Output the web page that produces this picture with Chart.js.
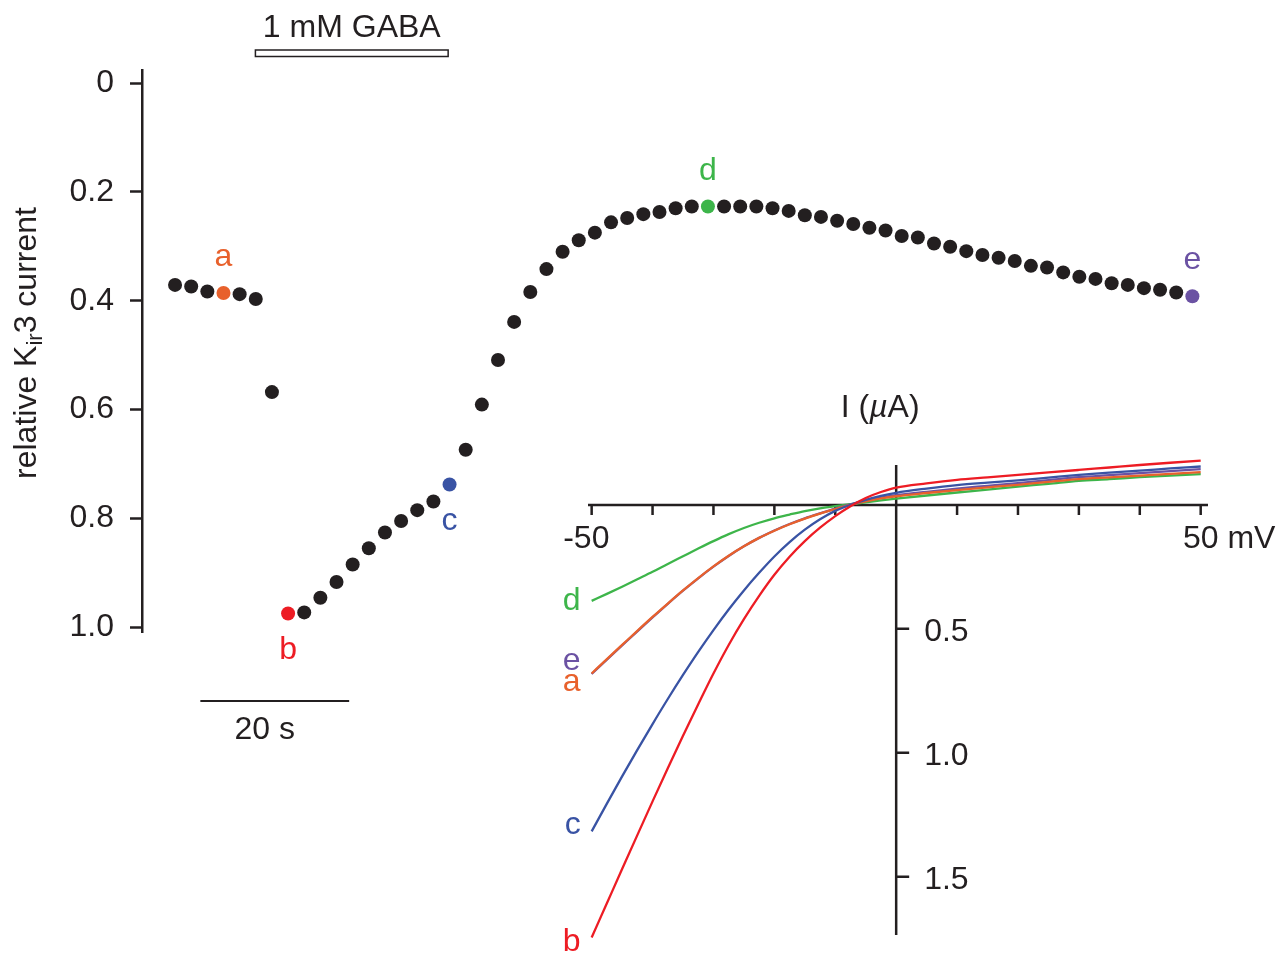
<!DOCTYPE html>
<html lang="en">
<head>
<meta charset="UTF-8">
<title>Kir3 current and GABA</title>
<script src="https://cdn.jsdelivr.net/npm/chart.js@4"></script>
<style>
  body { margin: 0; background: #fff; }
  #wrap { position: relative; width: 1285px; height: 953px; }
  #mainChart { position: absolute; left: 0; top: 0; }
  #ivChart { position: absolute; left: 540px; top: 380px; }
</style>
</head>
<body>
<div id="wrap">
  <canvas id="mainChart" width="1285" height="953"></canvas>
  <canvas id="ivChart" width="745" height="573"></canvas>
</div>

<script>
// ---- time course: one point per sweep ----
const sweepTimes = [0, 2.17, 4.34, 6.51, 8.68, 10.85, 13.02, 15.19, 17.36, 19.53,
  21.7, 23.87, 26.04, 28.21, 30.38, 32.55, 34.72, 36.89, 39.06, 41.23,
  43.4, 45.57, 47.74, 49.91, 52.08, 54.25, 56.42, 58.59, 60.76, 62.93,
  65.1, 67.27, 69.44, 71.61, 73.78, 75.95, 78.12, 80.29, 82.46, 84.63,
  86.8, 88.97, 91.14, 93.31, 95.48, 97.65, 99.82, 101.99, 104.16, 106.33,
  108.5, 110.67, 112.84, 115.01, 117.18, 119.35, 121.52, 123.69, 125.86, 128.03,
  130.2, 132.37, 134.54, 136.71];
const relCurrent = [0.371, 0.374, 0.383, 0.386, 0.388, 0.397, 0.568, 0.975, 0.973, 0.946,
  0.917, 0.885, 0.855, 0.826, 0.805, 0.785, 0.769, 0.738, 0.674, 0.591,
  0.509, 0.439, 0.384, 0.342, 0.310, 0.289, 0.275, 0.256, 0.248, 0.241,
  0.237, 0.230, 0.227, 0.227, 0.227, 0.227, 0.227, 0.230, 0.235, 0.243,
  0.246, 0.253, 0.259, 0.266, 0.271, 0.281, 0.284, 0.295, 0.301, 0.309,
  0.316, 0.321, 0.327, 0.336, 0.339, 0.348, 0.356, 0.360, 0.368, 0.371,
  0.377, 0.380, 0.385, 0.392];
const yTicks = [0, 0.2, 0.4, 0.6, 0.8, 1.0];

// sweeps whose I-V curves are shown in the inset
const traceLabels = ['a', 'b', 'c', 'd', 'e'];
const traceSweeps = [3, 7, 17, 33, 63];

// GABA application (s) and time scale bar
const gabaOn = 10.8;
const gabaOff = 36.7;
const scaleBarStart = 3.4;
const scaleBarSeconds = 20;

// ---- I-V inset: current in uA, inward negative ----
const ivVoltages = [-50, -47.5, -45, -42.5, -40, -37.5, -35, -32.5, -30, -27.5,
  -25, -22.5, -20, -17.5, -15, -12.5, -10, -7.5, -5, -2.5,
  0, 5, 10, 15, 20, 25, 30, 35, 40, 45, 50];
const ivA = [-0.680, -0.622, -0.565, -0.508, -0.452, -0.398, -0.345, -0.295, -0.248, -0.205,
  -0.167, -0.133, -0.104, -0.078, -0.055, -0.035, -0.017, 0.000, 0.014, 0.026,
  0.035, 0.048, 0.060, 0.071, 0.081, 0.093, 0.104, 0.111, 0.118, 0.125, 0.132];
const ivB = [-1.745, -1.607, -1.469, -1.332, -1.196, -1.062, -0.931, -0.804, -0.680, -0.565,
  -0.461, -0.367, -0.282, -0.209, -0.146, -0.092, -0.045, -0.005, 0.028, 0.052,
  0.070, 0.087, 0.101, 0.111, 0.121, 0.131, 0.141, 0.151, 0.161, 0.170, 0.179];
const ivC = [-1.317, -1.205, -1.095, -0.988, -0.884, -0.783, -0.686, -0.593, -0.505, -0.422,
  -0.345, -0.274, -0.208, -0.150, -0.100, -0.058, -0.024, 0.000, 0.020, 0.036,
  0.049, 0.066, 0.080, 0.090, 0.099, 0.110, 0.121, 0.130, 0.138, 0.147, 0.155];
const ivD = [-0.387, -0.359, -0.330, -0.300, -0.270, -0.238, -0.207, -0.176, -0.146, -0.118,
  -0.093, -0.072, -0.054, -0.039, -0.025, -0.014, -0.005, 0.003, 0.010, 0.018,
  0.025, 0.038, 0.050, 0.062, 0.074, 0.085, 0.097, 0.104, 0.112, 0.118, 0.124];
const ivE = [-0.682, -0.624, -0.567, -0.510, -0.454, -0.399, -0.346, -0.296, -0.249, -0.206,
  -0.167, -0.133, -0.103, -0.077, -0.054, -0.034, -0.015, 0.002, 0.017, 0.029,
  0.039, 0.053, 0.066, 0.077, 0.088, 0.100, 0.112, 0.120, 0.128, 0.136, 0.144];
const ivXTicks = [-50, -40, -30, -20, -10, 10, 20, 30, 40, 50];
const ivYTicks = [-0.5, -1.0, -1.5];

// ---- styles ----
const FONT = '"Liberation Sans", Arial, Helvetica, sans-serif';
const FS = 32;
const INK = '#231f20';
const traceColors = { a: '#e8612c', b: '#ed1c24', c: '#3953a4', d: '#3db54a', e: '#6b52a3' };
const labelBelow = { a: false, b: true, c: true, d: false, e: false };
// baseline offset of the inset labels from the start of each curve
const ivLabelNudge = { a: 18, b: 14, c: 3, d: 9, e: -4 };

function pointColor(i) {
  const k = traceSweeps.indexOf(i);
  return k < 0 ? INK : traceColors[traceLabels[k]];
}

// draws GABA bar, scale bar, sweep letters and the y title
const mainDecor = {
  id: 'mainDecor',
  afterDraw(chart) {
    const { ctx, chartArea, scales: { x, y } } = chart;
    ctx.save();
    ctx.font = `${FS}px ${FONT}`;
    ctx.textAlign = 'center';
    ctx.textBaseline = 'alphabetic';

    const g0 = x.getPixelForValue(gabaOn);
    const g1 = x.getPixelForValue(gabaOff);
    const barTop = chartArea.top - 20;
    ctx.lineWidth = 1.5;
    ctx.strokeStyle = INK;
    ctx.fillStyle = '#fff';
    ctx.fillRect(g0, barTop, g1 - g0, 6.5);
    ctx.strokeRect(g0, barTop, g1 - g0, 6.5);
    ctx.fillStyle = INK;
    ctx.fillText('1 mM GABA', (g0 + g1) / 2, chartArea.top - 33);

    const s0 = x.getPixelForValue(scaleBarStart);
    const s1 = x.getPixelForValue(scaleBarStart + scaleBarSeconds);
    const sy = chartArea.bottom + 69;
    ctx.lineWidth = 2;
    ctx.beginPath();
    ctx.moveTo(s0, sy);
    ctx.lineTo(s1, sy);
    ctx.stroke();
    ctx.fillText(scaleBarSeconds + ' s', (s0 + s1) / 2 - 10, sy + 38);

    traceLabels.forEach((lab, k) => {
      const i = traceSweeps[k];
      const px = x.getPixelForValue(sweepTimes[i]);
      const py = y.getPixelForValue(relCurrent[i]);
      ctx.fillStyle = traceColors[lab];
      ctx.fillText(lab, px, labelBelow[lab] ? py + 45 : py - 27);
    });

    // "relative K_ir3 current", rotated
    const big = `${FS}px ${FONT}`, small = `22px ${FONT}`;
    const parts = [['relative K', big, 0], ['ir', small, 6], ['3 current', big, 0]];
    let total = 0;
    parts.forEach(p => { ctx.font = p[1]; total += ctx.measureText(p[0]).width; });
    ctx.translate(36, chartArea.top + 273);
    ctx.rotate(-Math.PI / 2);
    ctx.fillStyle = INK;
    ctx.textAlign = 'left';
    let cx = -total / 2;
    parts.forEach(p => {
      ctx.font = p[1];
      ctx.fillText(p[0], cx, p[2]);
      cx += ctx.measureText(p[0]).width;
    });
    ctx.restore();
  }
};

new Chart(document.getElementById('mainChart'), {
  type: 'scatter',
  data: {
    datasets: [{
      data: sweepTimes.map((t, i) => ({ x: t, y: relCurrent[i] })),
      pointRadius: 7,
      pointBorderWidth: 0,
      pointBackgroundColor: sweepTimes.map((t, i) => pointColor(i)),
      showLine: false
    }]
  },
  options: {
    responsive: false,
    animation: false,
    layout: { padding: { left: 0, top: 70, right: 54, bottom: 321 } },
    plugins: { legend: { display: false }, tooltip: { enabled: false } },
    scales: {
      x: { type: 'linear', display: false, min: -4.44, max: 141.9 },
      y: {
        reverse: true,
        min: -0.024,
        max: 1.009,
        afterFit: s => { s.width = 142; },
        afterBuildTicks: s => { s.ticks = yTicks.map(v => ({ value: v })); },
        ticks: {
          callback: v => (v === 0 ? '0' : v.toFixed(1)),
          font: { family: FONT, size: FS },
          color: INK,
          padding: 16
        },
        grid: { drawOnChartArea: false, tickLength: 12, tickWidth: 2.5, tickColor: INK },
        border: { display: true, color: INK, width: 2.5 }
      }
    }
  },
  plugins: [mainDecor]
});

// crossing axes of the inset, drawn from its scales
const ivAxes = {
  id: 'ivAxes',
  beforeDatasetsDraw(chart) {
    const { ctx, chartArea, scales: { x, y } } = chart;
    const x0 = x.getPixelForValue(0);
    const y0 = y.getPixelForValue(0);
    ctx.save();
    ctx.strokeStyle = INK;
    ctx.fillStyle = INK;
    ctx.lineWidth = 2.5;
    ctx.beginPath();
    ctx.moveTo(chartArea.left, y0); ctx.lineTo(chartArea.right, y0);
    ctx.moveTo(x0, chartArea.top); ctx.lineTo(x0, chartArea.bottom);
    ivXTicks.forEach(v => {
      const px = x.getPixelForValue(v);
      ctx.moveTo(px, y0); ctx.lineTo(px, y0 + 10);
    });
    ivYTicks.forEach(v => {
      const py = y.getPixelForValue(v);
      ctx.moveTo(x0, py); ctx.lineTo(x0 + 13, py);
    });
    ctx.stroke();

    ctx.font = `${FS}px ${FONT}`;
    ctx.textBaseline = 'alphabetic';
    const half = ctx.measureText('50').width / 2;
    ctx.textAlign = 'right';
    ctx.fillText('-50', x.getPixelForValue(-50) + half, y0 + 43);
    ctx.textAlign = 'left';
    ctx.fillText('50 mV', x.getPixelForValue(50) - half, y0 + 43);
    ivYTicks.forEach(v => {
      ctx.fillText(Math.abs(v).toFixed(1), x0 + 28, y.getPixelForValue(v) + 12);
    });

    // "I (µA)" with italic mu
    const parts = [['I (', `${FS}px ${FONT}`], ['\u00b5', `italic ${FS}px ${FONT}`], ['A)', `${FS}px ${FONT}`]];
    let total = 0;
    parts.forEach(p => { ctx.font = p[1]; total += ctx.measureText(p[0]).width; });
    let cx = x0 - 16 - total / 2;
    parts.forEach(p => {
      ctx.font = p[1];
      ctx.fillText(p[0], cx, chartArea.top - 48);
      cx += ctx.measureText(p[0]).width;
    });
    ctx.restore();
  },
  afterDatasetsDraw(chart) {
    const { ctx, scales: { x, y } } = chart;
    ctx.save();
    ctx.font = `${FS}px ${FONT}`;
    ctx.textAlign = 'right';
    chart.data.datasets.forEach(ds => {
      const lab = ds.label;
      ctx.fillStyle = traceColors[lab];
      ctx.fillText(lab, x.getPixelForValue(-50) - 11, y.getPixelForValue(ds.data[0].y) + ivLabelNudge[lab]);
    });
    ctx.restore();
  }
};

// dataset 0 ends up on top, so red first and orange above purple
const ivSeries = { a: ivA, b: ivB, c: ivC, d: ivD, e: ivE };
const ivOrder = ['b', 'c', 'a', 'e', 'd'];

new Chart(document.getElementById('ivChart'), {
  type: 'line',
  data: {
    datasets: ivOrder.map(lab => ({
      label: lab,
      data: ivVoltages.map((v, i) => ({ x: v, y: ivSeries[lab][i] })),
      borderColor: traceColors[lab],
      borderWidth: 2.3,
      pointRadius: 0,
      cubicInterpolationMode: 'monotone',
      clip: false
    }))
  },
  options: {
    responsive: false,
    animation: false,
    layout: { padding: { left: 48, right: 77, top: 85, bottom: 18 } },
    plugins: { legend: { display: false }, tooltip: { enabled: false } },
    scales: {
      x: { type: 'linear', display: false, min: -50.6, max: 51.2 },
      y: { display: false, min: -1.735, max: 0.161 }
    }
  },
  plugins: [ivAxes]
});
</script>
</body>
</html>
